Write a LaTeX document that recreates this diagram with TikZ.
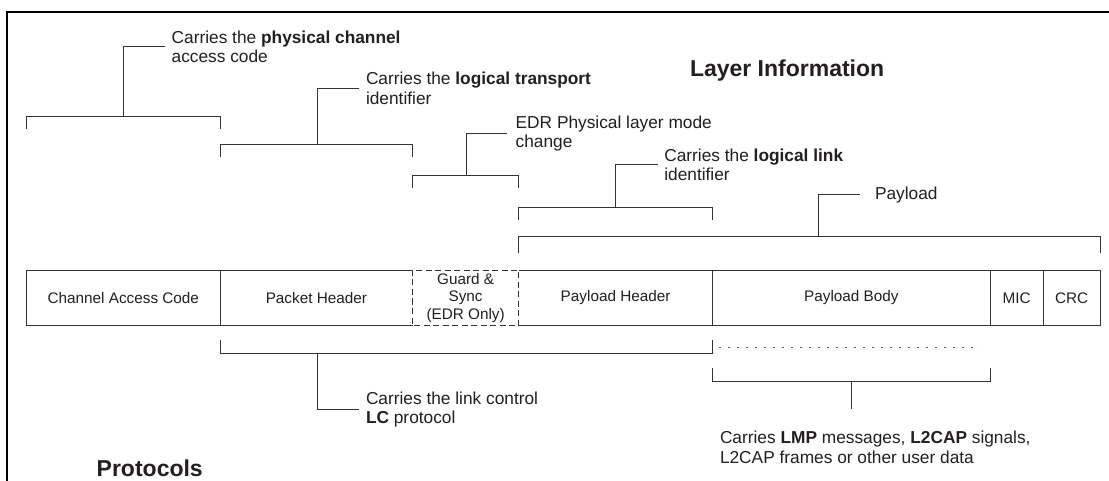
\documentclass[tikz,border=0pt]{standalone}
\usepackage{fontspec}
\setmainfont{Liberation Sans}
\definecolor{ink}{HTML}{231F20}
\definecolor{rulec}{HTML}{333333}
\newcommand\annsize{\fontsize{17.3}{19.5}\selectfont}
\newcommand\boxsize{\fontsize{15.3}{17.5}\selectfont}
\newcommand\headsize{\fontsize{23}{27}\selectfont\bfseries}
\begin{document}
\begin{tikzpicture}[x=1pt,y=-1pt,
  ann/.style={anchor=west,align=left,inner sep=0pt,outer sep=0pt,font=\annsize,text=ink},
  lbl/.style={align=center,inner sep=0pt,outer sep=0pt,minimum height=55.7pt,font=\boxsize,text=ink},
  head/.style={anchor=base west,inner sep=0pt,outer sep=0pt,font=\headsize,text=ink},
  brk/.style={draw=rulec,line width=0.9pt},
  guardline/.style={draw=rulec,line width=0.9pt,dash pattern=on 6pt off 3.5pt},
  dotline/.style={draw=rulec!80,line width=0.8pt,dash pattern=on 1.8pt off 7.2pt},
  frameline/.style={draw=black,line width=2pt}]
\useasboundingbox (0,0) rectangle (1109,481);
\fill[white] (0,0) rectangle (1109,481);
% frame
\draw[frameline] (7.3,490) -- (7.3,12.3) -- (1120,12.3);
% headers
\node[head] (layer) at (690,76.6) {Layer Information};
\node[head] (prot) at (96.7,476.6) {Protocols};
% boxes
\node[lbl,minimum width=193.3pt] (cac) at (123.35,297.85) {Channel Access Code};
\node[lbl,minimum width=192.7pt] (ph) at (316.35,297.85) {Packet Header};
\node[lbl,minimum width=105.8pt] (gs) at (465.6,297.85) {Guard \&\\Sync\\(EDR Only)};
\node[lbl,minimum width=194.2pt] (plh) at (615.6,297.85) {Payload Header};
\node[lbl,minimum width=277.3pt] (pb) at (851.35,297.85) {Payload Body};
\node[lbl,minimum width=53.3pt] (mic) at (1016.65,297.85) {MIC};
\node[lbl,minimum width=56.7pt] (crc) at (1071.65,297.85) {CRC};
\draw[brk] (ph.north east) -- (cac.north west) -- (cac.south west) -- (ph.south east);
\draw[brk] (cac.north east) -- (cac.south east);
\draw[guardline] (gs.north west) rectangle (gs.south east);
\draw[brk] (plh.north west) -- (crc.north east) -- (crc.south east) -- (plh.south west);
\draw[brk] (plh.north east) -- (plh.south east);
\draw[brk] (pb.north east) -- (pb.south east);
\draw[brk] (mic.north east) -- (mic.south east);
% annotation texts
\node[ann] (t1) at (171.7,46.7) {Carries the \textbf{physical channel}\\access code};
\node[ann] (t2) at (366,88.3) {Carries the \textbf{logical transport}\\identifier};
\node[ann] (t3) at (515.7,133.3) {EDR Physical layer mode\\change};
\node[ann] (t4) at (664.3,164.7) {Carries the \textbf{logical link}\\identifier};
\node[ann] (t5) at (875,194.7) {Payload};
\node[ann] (lc) at (366,409.3) {Carries the link control\\\textbf{LC} protocol};
\node[ann] (lmp) at (720,447.5) {Carries \textbf{LMP} messages, \textbf{L2CAP} signals,\\L2CAP frames or other user data};
% top brackets
\draw[brk] (26.7,129.3) |- (220,116.7) -- (220,129.3);
\draw[brk] (123.3,116.7) |- ([xshift=-6.7pt]t1.west);
\draw[brk] (220,157.3) |- (412.7,144.3) -- (412.7,157.3);
\draw[brk] (317.7,144.3) |- ([xshift=-6.7pt]t2.west);
\draw[brk] (412.7,188) |- (518.5,175) -- (518.5,188);
\draw[brk] (466,175) |- ([xshift=-8.7pt]t3.west);
\draw[brk] (518.5,220) |- (712.7,207.3) -- (712.7,220);
\draw[brk] (615.7,207.3) |- ([xshift=-6.6pt]t4.west);
\draw[brk] (518.5,253.3) |- (1100,236.3) -- (1100,253.3);
\draw[brk] (818.3,236.3) |- ([xshift=-15pt]t5.west);
% bottom brackets
\draw[brk] (220.7,340.3) |- (712.7,353.3) -- (712.7,340.3);
\draw[brk] (317.7,353.3) |- ([xshift=-6.7pt]lc.west);
\coordinate (d1) at (719,347.3);
\coordinate (d2) at (980,347.3);
\draw[dotline] (d1) -- (d2);
\draw[brk] (712.7,368.3) |- (990,381) -- (990,368.3);
\coordinate (lmpstem) at (851.7,409.3);
\draw[brk] (851.7,381) -- (lmpstem);
\end{tikzpicture}
\end{document}
